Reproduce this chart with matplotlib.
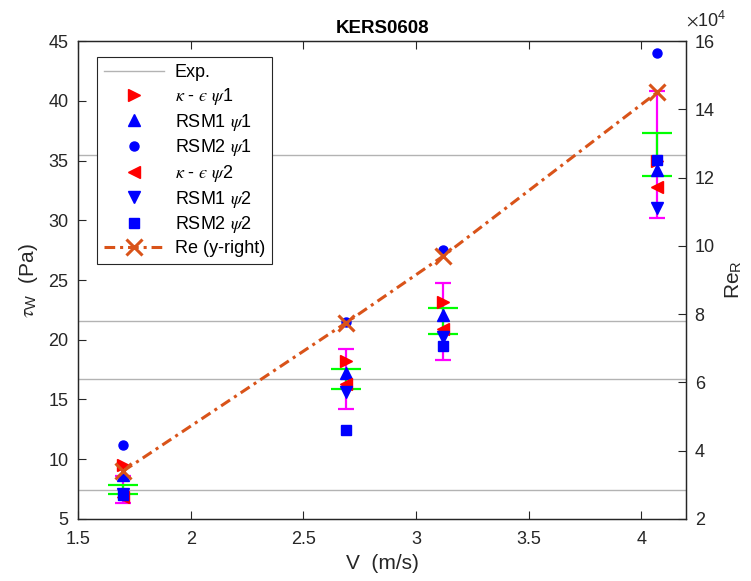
import matplotlib
matplotlib.use("Agg")
import matplotlib.pyplot as plt
from matplotlib.lines import Line2D

plt.rcParams['font.family'] = ['Liberation Sans', 'DejaVu Sans']
plt.rcParams['mathtext.fontset'] = 'stix'

# ---- data ----
V = [1.70, 2.69, 3.12, 4.07]
exp_tau = [7.45, 16.75, 21.55, 35.5]
err_outer = [1.12, 2.51, 3.23, 5.33]   # magenta bars
err_inner = [0.37, 0.84, 1.08, 1.78]   # green bars
ke_psi1 = [9.5, 18.2, 23.2, 35.0]
rsm1_psi1 = [8.7, 17.2, 22.1, 34.2]
rsm2_psi1 = [11.15, 21.5, 27.5, 44.0]
ke_psi2 = [6.8, 16.3, 20.9, 32.8]
rsm1_psi2 = [7.1, 15.6, 20.2, 31.0]
rsm2_psi2 = [7.0, 12.45, 19.45, 35.05]
Re = [3.4e4, 7.75e4, 9.7e4, 14.5e4]
xticks = [1.5, 2, 2.5, 3, 3.5, 4]
xticklabels = ['1.5', '2', '2.5', '3', '3.5', '4']
yticks_left = [5, 10, 15, 20, 25, 30, 35, 40, 45]
yticks_right = [2e4, 4e4, 6e4, 8e4, 10e4, 12e4, 14e4, 16e4]
yticklabels_right = ['2', '4', '6', '8', '10', '12', '14', '16']

fig = plt.figure(figsize=(7.51, 5.81), dpi=100)
ax = fig.add_axes([0.104, 0.107, 0.810, 0.822])
ax2 = ax.twinx()

axcol = '#262626'
gray = '#b3b3b3'

for t in exp_tau:
    ax.axhline(t, color=gray, lw=1.0, zorder=1)

ax.errorbar(V, exp_tau, yerr=err_outer, fmt='none', ecolor='#ff00ff',
            elinewidth=1.6, capsize=5.5, capthick=1.6, zorder=2)
ax.errorbar(V, exp_tau, yerr=err_inner, fmt='none', ecolor='#00ff00',
            elinewidth=1.6, capsize=11, capthick=1.6, zorder=3)

ms = 8.5
ax.plot(V, ke_psi1, ls='none', marker='>', color='red', ms=ms, mec='red', zorder=4)
ax.plot(V, rsm1_psi1, ls='none', marker='^', color='blue', ms=ms, zorder=4)
ax.plot(V, rsm2_psi1, ls='none', marker='o', color='blue', ms=6.5, zorder=4)
ax.plot(V, ke_psi2, ls='none', marker='<', color='red', ms=ms, zorder=4)
ax.plot(V, rsm1_psi2, ls='none', marker='v', color='blue', ms=ms, zorder=4)
ax.plot(V, rsm2_psi2, ls='none', marker='s', color='blue', ms=7, zorder=4)

re_col = (0.85, 0.325, 0.098)
re_dash = (3.5, 1.6, 1.0, 1.6)
ax2.plot(V, Re, color=re_col, lw=2.2, dashes=re_dash, marker='x', ms=11, mew=2.2, zorder=5)

ax.set_xlim(1.5, 4.2)
ax.set_ylim(5, 45)
ax2.set_ylim(2e4, 16e4)
ax.set_xticks(xticks)
ax.set_xticklabels(xticklabels)
ax.set_yticks(yticks_left)
ax2.set_yticks(yticks_right)
ax2.set_yticklabels(yticklabels_right)

for a in (ax, ax2):
    for s in a.spines.values():
        s.set_color(axcol)
        s.set_linewidth(0.9)
ax.tick_params(axis='both', direction='in', length=6, colors=axcol, labelsize=13,
               top=True, labelcolor='#262626')
ax.tick_params(axis='x', pad=9)
ax.tick_params(axis='y', right=False, pad=7)
ax2.tick_params(axis='y', direction='in', length=6, colors=axcol, labelsize=13, pad=6)

ax.set_xlabel('V  (m/s)', fontsize=15, color=axcol, labelpad=4)
ax.set_ylabel('$\\tau_{\\mathregular{W}}$  (Pa)', fontsize=15, color=axcol, labelpad=6)
ax2.set_ylabel('Re$_{\\mathregular{R}}$', fontsize=15, color=axcol, labelpad=6)
ax.set_title('KERS0608', fontsize=13.5, fontweight='bold', color='black', pad=6)
ax2.text(1.0, 1.025, '$\\times\\mathregular{10^{4}}$', transform=ax2.transAxes,
         ha='left', va='bottom', fontsize=13, color=axcol)

handles = [
    Line2D([], [], color=gray, lw=1.0),
    Line2D([], [], ls='none', marker='>', color='red', ms=ms),
    Line2D([], [], ls='none', marker='^', color='blue', ms=ms),
    Line2D([], [], ls='none', marker='o', color='blue', ms=6.5),
    Line2D([], [], ls='none', marker='<', color='red', ms=ms),
    Line2D([], [], ls='none', marker='v', color='blue', ms=ms),
    Line2D([], [], ls='none', marker='s', color='blue', ms=7),
    Line2D([], [], color=re_col, lw=2.2, dashes=re_dash, marker='x', ms=11, mew=2.2),
]
labels = ['Exp.', '$\\kappa$ - $\u03f5$ $\\psi$1', 'RSM1 $\\psi$1', 'RSM2 $\\psi$1',
          '$\\kappa$ - $\u03f5$ $\\psi$2', 'RSM1 $\\psi$2', 'RSM2 $\\psi$2', 'Re (y-right)']
leg = ax2.legend(handles, labels, loc='upper left', bbox_to_anchor=(0.031, 0.967),
                 borderaxespad=0, fontsize=13, frameon=True, fancybox=False,
                 edgecolor=axcol, framealpha=1, handlelength=3.3, labelspacing=0.26,
                 handletextpad=0.6, borderpad=0.4)
leg.get_frame().set_linewidth(0.8)
leg.set_zorder(10)

fig.savefig('out.png', dpi=100)
